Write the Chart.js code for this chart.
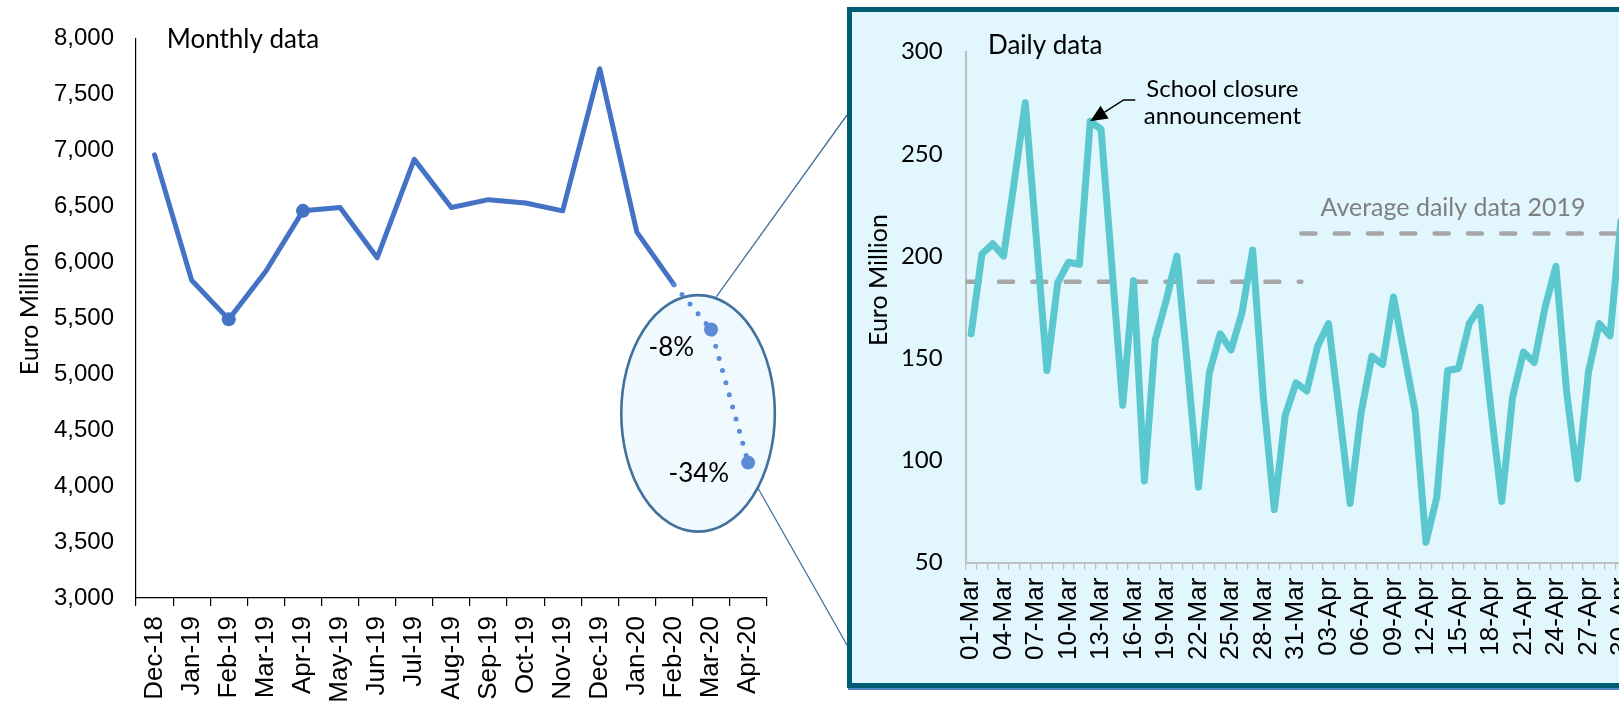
<!DOCTYPE html>
<html>
<head>
<meta charset="utf-8">
<script src="https://cdn.jsdelivr.net/npm/chart.js@4.4.1/dist/chart.umd.min.js"></script>
<style>
  html, body { margin: 0; padding: 0; background: #ffffff; width: 1619px; height: 707px; overflow: hidden; }
  #wrap { position: relative; width: 1619px; height: 707px; overflow: hidden; }
  #monthly { position: absolute; left: 0; top: 0; }
  #panel { position: absolute; left: 847px; top: 7px; width: 860px; height: 671px;
           border: 5px solid #005C72; background: #E1F7FD; box-shadow: 1px 2px 0 #4E86BD; }
  #daily { position: absolute; left: 852px; top: 12px; }
</style>
</head>
<body>
<div id="wrap">
  <canvas id="monthly" width="850" height="707"></canvas>
  <div id="panel"></div>
  <canvas id="daily" width="820" height="676"></canvas>
</div>
<script>
// ---- Monthly series (Euro million) ----
const monthLabels = ['Dec-18','Jan-19','Feb-19','Mar-19','Apr-19','May-19','Jun-19','Jul-19','Aug-19',
                     'Sep-19','Oct-19','Nov-19','Dec-19','Jan-20','Feb-20','Mar-20','Apr-20'];
const monthValues = [6960, 5840, 5490, 5920, 6460, 6490, 6040, 6920, 6490,
                     6560, 6530, 6460, 7730, 6270, 5800, 5400, 4210];
const monthMarkers = [2, 4, 15, 16];          // highlighted months
const estimateFrom = 14;                      // segments after this index are dotted
const changeIndex = [15, 16];
const changeText = ['-8%', '-34%'];
const monthTicks = { min: 3000, max: 8000, step: 500 };

// ---- Daily series (Euro million), 1 March - 30 April ----
const dayLabels = ['01-Mar','02-Mar','03-Mar','04-Mar','05-Mar','06-Mar','07-Mar','08-Mar','09-Mar','10-Mar',
                   '11-Mar','12-Mar','13-Mar','14-Mar','15-Mar','16-Mar','17-Mar','18-Mar','19-Mar','20-Mar',
                   '21-Mar','22-Mar','23-Mar','24-Mar','25-Mar','26-Mar','27-Mar','28-Mar','29-Mar','30-Mar',
                   '31-Mar','01-Apr','02-Apr','03-Apr','04-Apr','05-Apr','06-Apr','07-Apr','08-Apr','09-Apr',
                   '10-Apr','11-Apr','12-Apr','13-Apr','14-Apr','15-Apr','16-Apr','17-Apr','18-Apr','19-Apr',
                   '20-Apr','21-Apr','22-Apr','23-Apr','24-Apr','25-Apr','26-Apr','27-Apr','28-Apr','29-Apr',
                   '30-Apr'];
const dayValues = [162, 201, 206, 200, 237, 275, 210, 144, 187, 197,
                   196, 266, 262, 195, 127, 188,  90, 159, 178, 200,
                   145,  87, 143, 162, 154, 172, 203, 130,  76, 122,
                   138, 134, 156, 167, 124,  79, 123, 151, 147, 180,
                   152, 124,  60,  82, 144, 145, 167, 175, 125,  80,
                   131, 153, 148, 175, 195, 133,  91, 143, 167, 161,
                   217];
const dayTicks = { min: 50, max: 300, step: 50 };
// 2019 average daily values for March and April
const avgMarch2019 = 187.5;
const avgApril2019 = 211;
const daysInMarch = 31;
const schoolClosureIndex = 11;

const blue = '#4472C4';
const blueLight = '#5B8BD6';
const sans = '"Liberation Sans", Arial, sans-serif';
const lato = 'Lato, "Open Sans", sans-serif';

// Oval around the estimated months, in data units
const oval = { cx: 14.65, cy: 4650, rx: 2.07, ry: 1057 };

const monthlyDecor = {
  id: 'monthlyDecor',
  beforeDatasetsDraw(chart) {
    const { ctx, scales: { x, y } } = chart;
    const cx = x.getPixelForValue(oval.cx);
    const cy = y.getPixelForValue(oval.cy);
    const rx = x.getPixelForValue(oval.cx + oval.rx) - cx;
    const ry = cy - y.getPixelForValue(oval.cy + oval.ry);
    ctx.save();
    // connectors to the zoom panel
    const panelLeft = 847;
    const a1 = -77 * Math.PI / 180, a2 = 39 * Math.PI / 180;
    ctx.strokeStyle = '#41729D';
    ctx.lineWidth = 1.3;
    ctx.beginPath();
    ctx.moveTo(cx + rx * Math.cos(a1), cy + ry * Math.sin(a1));
    ctx.lineTo(panelLeft, 115);
    ctx.moveTo(cx + rx * Math.cos(a2), cy + ry * Math.sin(a2));
    ctx.lineTo(panelLeft, 645);
    ctx.stroke();
    // oval
    ctx.beginPath();
    ctx.ellipse(cx, cy, rx, ry, 0, 0, Math.PI * 2);
    ctx.fillStyle = '#F0FAFE';
    ctx.fill();
    ctx.lineWidth = 2.6;
    ctx.strokeStyle = '#41729D';
    ctx.stroke();
    ctx.restore();
  },
  afterDatasetsDraw(chart) {
    const { ctx, chartArea, scales: { y } } = chart;
    const meta = chart.getDatasetMeta(0);
    ctx.save();
    ctx.fillStyle = '#000';
    ctx.font = '26px ' + lato;
    ctx.textAlign = 'left';
    ctx.textBaseline = 'alphabetic';
    ctx.fillText('Monthly data', chartArea.left + 30.7, y.getPixelForValue(monthTicks.max) + 9.2);
    // change labels next to the highlighted points
    ctx.textAlign = 'right';
    const offs = [[-17, 26.7], [-19, 19.4]];
    changeIndex.forEach((idx, k) => {
      const p = meta.data[idx];
      ctx.fillText(changeText[k], p.x + offs[k][0], p.y + offs[k][1]);
    });
    // axis title
    ctx.font = '25px ' + lato;
    ctx.textAlign = 'center';
    ctx.translate(38.3, (chartArea.top + chartArea.bottom) / 2 - 9);
    ctx.rotate(-Math.PI / 2);
    ctx.fillText('Euro Million', 0, 0);
    ctx.restore();
  }
};

new Chart(document.getElementById('monthly'), {
  type: 'line',
  data: {
    labels: monthLabels,
    datasets: [{
      data: monthValues,
      borderColor: blue,
      borderWidth: 5,
      borderJoinStyle: 'round',
      borderCapStyle: 'round',
      tension: 0,
      pointRadius: ctx => monthMarkers.includes(ctx.dataIndex) ? 7 : 0,
      pointBackgroundColor: ctx => ctx.dataIndex > estimateFrom ? blueLight : blue,
      pointBorderWidth: 0,
      pointHoverRadius: 0,
      segment: {
        borderDash: ctx => ctx.p0DataIndex >= estimateFrom ? [0, 12.6] : undefined,
        borderColor: ctx => ctx.p0DataIndex >= estimateFrom ? blueLight : undefined
      }
    }]
  },
  options: {
    responsive: false,
    animation: false,
    events: [],
    layout: { padding: { top: 38.5, right: 83.3, left: 0, bottom: 0 } },
    plugins: { legend: { display: false }, tooltip: { enabled: false } },
    scales: {
      x: {
        type: 'category',
        offset: true,
        grid: { display: true, drawOnChartArea: false, drawTicks: true, tickLength: 8, offset: true, color: '#000', lineWidth: 1.2 },
        border: { display: true, color: '#000', width: 1.2 },
        ticks: { color: '#000', font: { family: sans, size: 26 }, maxRotation: 90, minRotation: 90, padding: 10, autoSkip: false },
        afterFit: s => { s.height = 109; }
      },
      y: {
        min: monthTicks.min, max: monthTicks.max,
        ticks: { stepSize: monthTicks.step, color: '#000', font: { family: sans, size: 24 }, padding: 22,
                 callback: v => v.toLocaleString('en-US') },
        grid: { display: true, drawOnChartArea: false, drawTicks: false },
        border: { display: true, color: '#000', width: 1.2 },
        afterFit: s => { s.width = 136; }
      }
    }
  },
  plugins: [monthlyDecor]
});

// ---- Daily panel ----
const dailyDecor = {
  id: 'dailyDecor',
  afterDatasetsDraw(chart) {
    const { ctx, chartArea, scales: { x2, y } } = chart;
    const pt = chart.getDatasetMeta(0).data[schoolClosureIndex];
    ctx.save();
    ctx.fillStyle = '#000';
    ctx.textBaseline = 'alphabetic';
    ctx.font = '26px ' + lato;
    ctx.textAlign = 'left';
    ctx.fillText('Daily data', chartArea.left + 22.3, y.getPixelForValue(dayTicks.max) + 2.3);

    // school closure note and arrow
    ctx.font = '24px ' + lato;
    ctx.textAlign = 'center';
    const nx = x2.getPixelForValue(23.7);
    ctx.fillText('School closure', nx, y.getPixelForValue(277.7));
    ctx.fillText('announcement', nx, y.getPixelForValue(264.6));
    const tailX = x2.getPixelForValue(15.66), elbowX = x2.getPixelForValue(14.58);
    const armY = y.getPixelForValue(276.4);
    const tipX = pt.x, tipY = pt.y;
    ctx.strokeStyle = '#000';
    ctx.lineWidth = 1.5;
    const ang = Math.atan2(tipY - armY, tipX - elbowX);
    const headLen = 17, headW = 7.5;
    const baseX = tipX - headLen * Math.cos(ang), baseY = tipY - headLen * Math.sin(ang);
    ctx.beginPath();
    ctx.moveTo(tailX, armY);
    ctx.lineTo(elbowX, armY);
    ctx.lineTo(baseX, baseY);
    ctx.stroke();
    ctx.beginPath();
    ctx.moveTo(tipX, tipY);
    ctx.lineTo(baseX + headW * Math.sin(ang), baseY - headW * Math.cos(ang));
    ctx.lineTo(baseX - headW * Math.sin(ang), baseY + headW * Math.cos(ang));
    ctx.closePath();
    ctx.fill();

    // average line caption
    ctx.fillStyle = '#7F7F7F';
    ctx.font = '25px ' + lato;
    ctx.fillText('Average daily data 2019', x2.getPixelForValue(45), y.getPixelForValue(219.6));

    // axis title
    ctx.fillStyle = '#000';
    ctx.translate(34.7, 268);
    ctx.rotate(-Math.PI / 2);
    ctx.fillText('Euro Million', 0, 0);
    ctx.restore();
  }
};

const avgStyle = {
  xAxisID: 'x2',
  borderColor: '#A6A6A6',
  borderWidth: 4.5,
  borderDash: [14, 19.3],
  borderCapStyle: 'round',
  pointRadius: 0,
  pointHoverRadius: 0,
  tension: 0
};

new Chart(document.getElementById('daily'), {
  type: 'line',
  data: {
    labels: dayLabels,
    datasets: [
      {
        xAxisID: 'x',
        data: dayValues,
        borderColor: '#5BC8CF',
        borderWidth: 7,
        borderJoinStyle: 'round',
        borderCapStyle: 'round',
        tension: 0,
        pointRadius: 0,
        pointHoverRadius: 0
      },
      Object.assign({ data: [{ x: 0, y: avgMarch2019 }, { x: daysInMarch, y: avgMarch2019 }] }, avgStyle),
      Object.assign({ data: [{ x: daysInMarch, y: avgApril2019 }, { x: dayLabels.length, y: avgApril2019 }] }, avgStyle)
    ]
  },
  options: {
    responsive: false,
    animation: false,
    events: [],
    layout: { padding: { top: 39.7, right: 45.7, left: 0, bottom: 0 } },
    plugins: { legend: { display: false }, tooltip: { enabled: false } },
    scales: {
      x: {
        type: 'category',
        offset: true,
        grid: { display: true, drawOnChartArea: false, drawTicks: true, tickLength: 7, offset: true, color: '#BFBFBF', lineWidth: 1.3 },
        border: { display: true, color: '#BFBFBF', width: 2 },
        ticks: {
          color: '#000', font: { family: sans, size: 26 }, maxRotation: 90, minRotation: 90, padding: 8, autoSkip: false,
          callback: function (v, i) { return i % 3 === 0 ? this.getLabelForValue(v) : ''; }
        },
        afterFit: s => { s.height = 125.3; }
      },
      x2: { type: 'linear', display: false, min: 0, max: dayLabels.length },
      y: {
        min: dayTicks.min, max: dayTicks.max,
        ticks: { stepSize: dayTicks.step, color: '#000', font: { family: lato, size: 24 }, padding: 23 },
        grid: { display: true, drawOnChartArea: false, drawTicks: false },
        border: { display: true, color: '#BFBFBF', width: 2 },
        afterFit: s => { s.width = 113.7; }
      }
    }
  },
  plugins: [dailyDecor]
});
</script>
</body>
</html>
